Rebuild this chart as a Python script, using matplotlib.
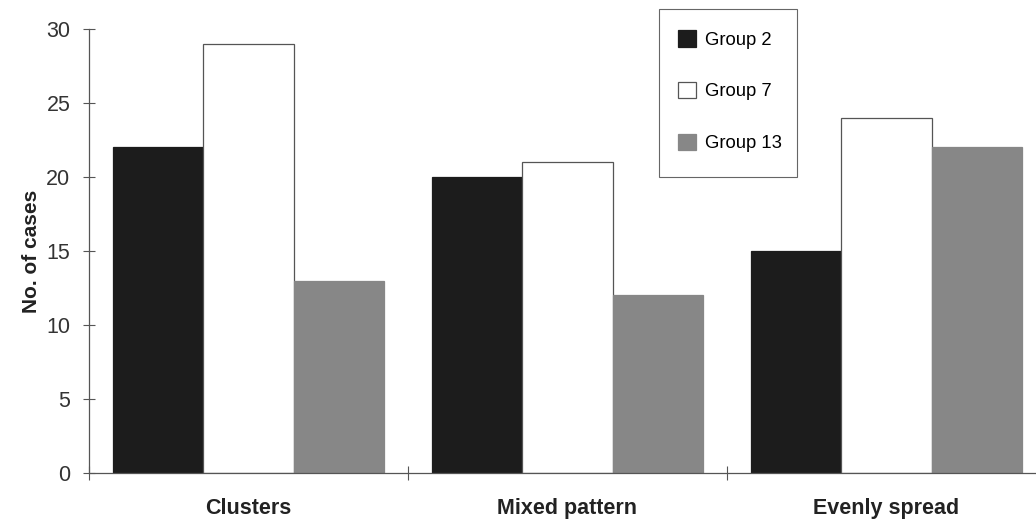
import matplotlib
matplotlib.use("Agg")
import matplotlib.pyplot as plt
from matplotlib.patches import Rectangle
import numpy as np

categories = ["Clusters", "Mixed pattern", "Evenly spread"]
groups = ["Group 2", "Group 7", "Group 13"]
group2 = [22, 20, 15]
group7 = [29, 21, 24]
group13 = [13, 12, 22]
y_ticks = [0, 5, 10, 15, 20, 25, 30]

plt.rcParams["font.family"] = ["Liberation Sans", "DejaVu Sans"]

fig = plt.figure(figsize=(10.36, 5.23), dpi=100)
W, H = 1036, 523
ax = fig.add_axes([89 / W, 50 / H, 957 / W, 444 / H])

series = [group2, group7, group13]
faces = ["#1c1c1c", "#ffffff", "#878787"]
edges = ["#1c1c1c", "#555555", "#878787"]
width = 0.283
x = np.arange(len(categories))
for i, (vals, fc, ec, lab) in enumerate(zip(series, faces, edges, groups)):
    ax.bar(x + (i - 1) * width, vals, width=width, color=fc, edgecolor=ec,
           linewidth=0.9, label=lab, zorder=2)

ax.set_xlim(-0.5, 2.5)
ax.set_ylim(0, 30)

for s in ["top", "right"]:
    ax.spines[s].set_visible(False)
for s in ["left", "bottom"]:
    ax.spines[s].set_color("#555555")
    ax.spines[s].set_linewidth(0.9)

ax.set_yticks(y_ticks)
ax.set_yticklabels([str(t) for t in y_ticks], fontsize=15.5, color="#333333")
ax.tick_params(axis="y", direction="inout", length=9, width=0.8, color="#555555", pad=9)

# category ticks sit on the boundaries; labels are centred below each group
ax.set_xticks([-0.5, 0.5, 1.5, 2.5])
ax.set_xticklabels([])
ax.tick_params(axis="x", direction="inout", length=10, width=0.8, color="#555555")
for xi, cat in zip(x, categories):
    ax.text(xi, -2.4, cat, ha="center", va="center", fontsize=15.5,
            fontweight="bold", color="#222222", transform=ax.transData)

ax.set_ylabel("No. of cases", fontsize=15, fontweight="bold", color="#222222", labelpad=4)

# legend entries without their own frame, boxed by a separate rectangle
leg = ax.legend(loc="upper left", bbox_to_anchor=(678 / W, 1 - 30 / H),
                bbox_transform=fig.transFigure,
                frameon=False, fontsize=13.3, labelspacing=1.8,
                handlelength=1.0, handleheight=1.0, handletextpad=0.45,
                borderpad=0, borderaxespad=0)
fig.add_artist(Rectangle((659 / W, 1 - 177 / H), 138 / W, 168 / H,
                         transform=fig.transFigure, facecolor="none",
                         edgecolor="#666666", linewidth=0.8))

fig.savefig("out.png", dpi=100)
